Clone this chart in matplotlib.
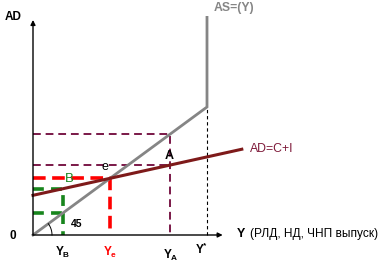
""" Keynesian cross: aggregate demand AD=C+I against the 45-degree AS line. """

import numpy as np
import matplotlib.pyplot as plt

plt.rcParams['font.family'] = ['Liberation Sans', 'DejaVu Sans']

# economic values (output Y on x, spending on y), full employment output Y* = 100
Y_STAR = 100
AS_TOP = 170
AD_INTERCEPT = 31
AD_SLOPE = 0.3
AD_END = 120
Y_B = 17
Y_A = 79
Y_E = AD_INTERCEPT / (1 - AD_SLOPE)

x_tick_names = ['Y$_\\mathregular{B}$', 'Y$_\\mathregular{e}$', 'Y$_\\mathregular{A}$', 'Y$^\\mathregular{*}$']

# pixel scale of the original drawing
PX_X, PX_Y = 1.74, 1.28

fig = plt.figure(figsize=(3.8, 2.63), dpi=100)
ax = fig.add_axes([0, 0, 1, 1])
ax.set_xlim(-33 / PX_X, (380 - 33) / PX_X)
ax.set_ylim(-(263 - 235) / PX_Y, 235 / PX_Y)
ax.axis('off')


def ad(y):
    return AD_INTERCEPT + AD_SLOPE * y


# axes with arrows
arrow = dict(arrowstyle='-|>', color='black', lw=1.0, mutation_scale=7, shrinkA=0, shrinkB=0)
ax.annotate('', xy=(0, 168), xytext=(0, 0), arrowprops=arrow)
ax.annotate('', xy=(109, 0), xytext=(0, 0), arrowprops=arrow)

# guide lines
ax.plot([Y_STAR, Y_STAR], [0, Y_STAR], color='black', lw=0.8, ls=(0, (3, 2.5)))
purple = '#7a1848'
ax.plot([0, Y_A, Y_A], [Y_A, Y_A, 0], color=purple, lw=1.4, ls=(0, (4, 2.5)))
ax.plot([0, Y_A], [ad(Y_A), ad(Y_A)], color=purple, lw=1.4, ls=(0, (4, 2.5)))
ax.plot([0, Y_E, Y_E], [Y_E, Y_E, 0], color='#ff0000', lw=2.6, ls=(0, (3.5, 1.8)))
green = '#17851c'
ax.plot([0, Y_B, Y_B], [ad(Y_B), ad(Y_B), 0], color=green, lw=2.6, ls=(0, (3, 2)))
ax.plot([0, Y_B], [Y_B, Y_B], color=green, lw=2.6, ls=(0, (3, 2)))

# AS and AD curves
ax.plot([0, Y_STAR, Y_STAR], [0, Y_STAR, AS_TOP], color='#858585', lw=2.0, solid_joinstyle='miter')
ad_x = np.array([0, AD_END])
ax.plot(ad_x, ad(ad_x), color='#7e1a1a', lw=2.2)

# 45 degree arc
t = np.linspace(0, np.arctan(PX_Y / PX_X), 30)
ax.plot(19 * np.cos(t) / PX_X, 19 * np.sin(t) / PX_Y, color='black', lw=0.7)
ax.text(25, 8.5, '45', fontsize=7.5, fontweight='bold', ha='center', va='center')

# labels
ax.text(-16.5, 170, 'AD', fontsize=8.5, fontweight='bold', ha='left', va='center')
ax.text(-11.5, -1, '0', fontsize=8.5, fontweight='bold', ha='center', va='center')
ax.text(117, 1, 'Y', fontsize=9, fontweight='bold', ha='left', va='center')
ax.text(124.5, 1, '(РЛД, НД, ЧНП выпуск)', fontsize=8.6, ha='left', va='center')
ax.text(104, 177, 'AS=(Y)', fontsize=8.8, fontweight='bold', color='#858585', ha='left', va='center')
ax.text(124.5, 67, 'AD=C+I', fontsize=8.8, color='#7e1a3a', ha='left', va='center')
ax.text(Y_A - 0.5, ad(Y_A) + 7, 'A', fontsize=9, fontweight='bold', ha='center', va='center')
ax.text(Y_E - 3, ad(Y_E) + 8.5, 'e', fontsize=9, ha='center', va='center')
ax.text(Y_B + 4, ad(Y_B) + 7.5, 'B', fontsize=9.5, color=green, ha='center', va='center')

tick_x = [Y_B, Y_E, Y_A, Y_STAR - 3]
tick_y = [-13.5, -13.5, -16, -11]
tick_colors = ['black', '#ff0000', 'black', 'black']
for x, y, name, c in zip(tick_x, tick_y, x_tick_names, tick_colors):
    ax.text(x, y, name, fontsize=8.5, fontweight='bold', color=c, ha='center', va='center')

fig.savefig('out.png', dpi=100)
